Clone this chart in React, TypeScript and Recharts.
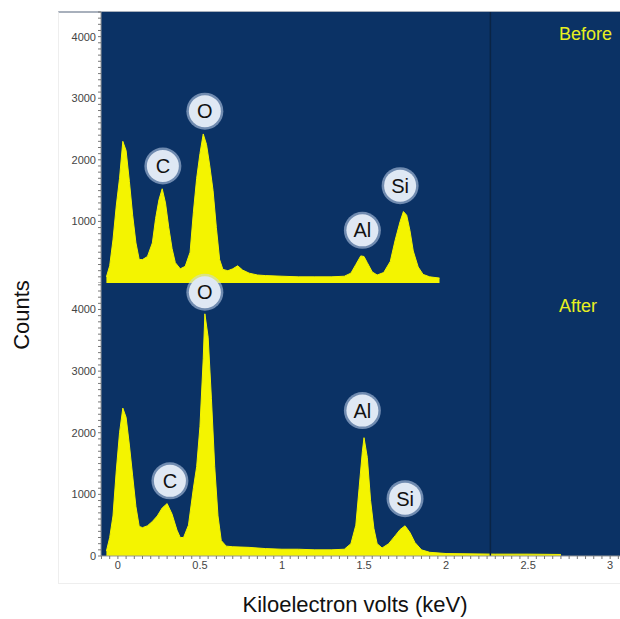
import React from 'react';
import { AreaChart, Area, XAxis, YAxis, CartesianGrid, ReferenceLine, ReferenceDot } from 'recharts';

// Spectrum before treatment (keV vs counts)
const beforeKev = [
  -0.07, -0.05, -0.03, -0.01, 0.01, 0.03, 0.05, 0.07, 0.09, 0.11, 0.13, 0.15, 0.18, 0.21, 0.23, 0.25,
  0.27, 0.29, 0.31, 0.33, 0.35, 0.38, 0.41, 0.44, 0.46, 0.48, 0.5, 0.52, 0.54, 0.56, 0.58, 0.6,
  0.62, 0.64, 0.67, 0.7, 0.73, 0.76, 0.8, 0.85, 0.9, 1.0, 1.1, 1.2, 1.3, 1.38, 1.42, 1.45,
  1.48, 1.5, 1.52, 1.55, 1.58, 1.62, 1.66, 1.69, 1.72, 1.74, 1.76, 1.78, 1.8, 1.83, 1.86, 1.9, 1.96,
];
const beforeCounts = [
  100, 280, 700, 1250, 1700, 2300, 2150, 1650, 1100, 650, 380, 380, 430, 650, 1050, 1350,
  1530, 1300, 900, 560, 330, 230, 270, 500, 1150, 1700, 2100, 2420, 2250, 1900, 1500, 900,
  380, 220, 200, 230, 280, 210, 160, 130, 120, 110, 100, 100, 100, 110, 160, 300,
  440, 430, 330, 180, 130, 170, 350, 700, 1000, 1160, 1100, 850, 520, 260, 140, 100, 80,
];

// Spectrum after treatment
const afterKev = [
  -0.07, -0.05, -0.03, -0.01, 0.01, 0.03, 0.05, 0.07, 0.09, 0.11, 0.13, 0.15, 0.18, 0.21, 0.24, 0.27,
  0.3, 0.33, 0.36, 0.38, 0.4, 0.43, 0.46, 0.48, 0.5, 0.52, 0.53, 0.55, 0.57, 0.59, 0.61, 0.63,
  0.66, 0.7, 0.8, 0.9, 1.0, 1.1, 1.2, 1.3, 1.38, 1.42, 1.45, 1.47, 1.49, 1.5, 1.52, 1.54,
  1.56, 1.58, 1.61, 1.65, 1.69, 1.72, 1.75, 1.78, 1.81, 1.85, 1.9, 2.0, 2.3, 2.5, 2.7,
];
const afterCounts = [
  80, 300, 650, 1380, 2000, 2400, 2250, 1800, 1300, 800, 480, 460, 490, 560, 650, 780,
  850, 680, 420, 300, 300, 500, 1100, 1450, 2100, 3200, 3930, 3550, 2550, 1450, 650, 250,
  160, 150, 140, 120, 110, 110, 100, 100, 110, 200, 500, 1100, 1700, 1920, 1600, 900,
  450, 200, 130, 200, 330, 430, 490, 380, 220, 100, 60, 40, 30, 30, 25,
];

// Element labels: [element, keV, counts] for the circle centres
const beforeLabels: [string, number, number][] = [
  ['C', 0.274, 1900],
  ['O', 0.53, 2790],
  ['Al', 1.49, 855],
  ['Si', 1.72, 1580],
];
const afterLabels: [string, number, number][] = [
  ['O', 0.53, 4280],
  ['C', 0.317, 1220],
  ['Al', 1.49, 2360],
  ['Si', 1.75, 930],
];

const xMajorTicks = [0, 0.5, 1, 1.5, 2, 2.5, 3];
const xTickLabels = ['0', '0.5', '1', '1.5', '2', '2.5', '3'];
const yMajorTicks = [0, 1000, 2000, 3000, 4000];
const yTickLabels = ['0', '1000', '2000', '3000', '4000'];
const markerLineKev = 2.27;

const X_DOMAIN: [number, number] = [-0.103, 3.06];
const BG = '#0b3265';
const YELLOW = '#f4f400';
const FONT = 'Arial, "Liberation Sans", sans-serif';

const beforeData = beforeKev.map((k, i) => ({ kev: k, counts: beforeCounts[i] }));
const afterData = afterKev.map((k, i) => ({ kev: k, counts: afterCounts[i] }));

// minor ticks between the labelled ones
const xTicks: number[] = [];
for (let i = -2; i <= 61; i++) xTicks.push(Math.round(i * 5) / 100);
const yTicksAll: number[] = [];
for (let i = 0; i <= 44; i++) yTicksAll.push(i * 100);

const xFmt = (v: number) => {
  const idx = xMajorTicks.findIndex((t) => Math.abs(t - v) < 1e-6);
  return idx >= 0 ? xTickLabels[idx] : '';
};
const yFmt = (hideZero: boolean) => (v: number) => {
  const idx = yMajorTicks.indexOf(v);
  if (idx < 0 || (hideZero && v === 0)) return '';
  return yTickLabels[idx];
};

const bubble = (name: string) => (props: any) => {
  const { cx, cy } = props;
  return (
    <g>
      <circle cx={cx} cy={cy} r={18.5} fill="#c4d6ee" opacity={0.55} />
      <circle cx={cx} cy={cy} r={16} fill="#dfe8f4" />
      <text
        x={cx}
        y={cy}
        textAnchor="middle"
        dominantBaseline="central"
        fontSize={20}
        fontFamily={FONT}
        fill="#111"
      >
        {name}
      </text>
    </g>
  );
};

const tickStyle = { fontSize: 11, fill: '#444', fontFamily: FONT };

const App: React.FC = () => {
  return (
    <div style={{ position: 'absolute', left: 0, top: 0, width: 620, height: 619, background: '#fff' }}>
      {/* thin frame round the axes region */}
      <div
        style={{
          position: 'absolute',
          left: 58,
          top: 11,
          width: 562,
          height: 570,
          borderTop: '2px solid #a8b0bc',
          borderLeft: '1px solid #eee',
          borderBottom: '1px solid #eee',
        }}
      />
      <div style={{ position: 'absolute', left: 0, top: 0 }}>
        <AreaChart width={620} height={283} data={beforeData} margin={{ top: 12, right: 0, left: 0, bottom: 0 }}>
          <CartesianGrid fill={BG} horizontal={false} vertical={false} />
          <XAxis type="number" dataKey="kev" domain={X_DOMAIN} allowDataOverflow hide />
          <YAxis
            type="number"
            width={101}
            domain={[0, 4400]}
            allowDataOverflow
            ticks={yTicksAll}
            interval={0}
            tickFormatter={yFmt(true)}
            tick={tickStyle}
            tickSize={3}
            tickLine={{ stroke: '#777' }}
            axisLine={{ stroke: '#999' }}
          />
          <ReferenceLine x={markerLineKev} stroke="#0a2445" strokeWidth={1.5} />
          <Area
            type="linear"
            dataKey="counts"
            stroke={YELLOW}
            strokeWidth={1}
            fill={YELLOW}
            fillOpacity={1}
            isAnimationActive={false}
          />
          {beforeLabels.map(([name, k, c]) => (
            <ReferenceDot key={'b' + name} x={k} y={c} r={16} shape={bubble(name)} />
          ))}
        </AreaChart>
      </div>
      <div style={{ position: 'absolute', left: 0, top: 263 }}>
        <AreaChart width={620} height={320} data={afterData} margin={{ top: 20, right: 0, left: 0, bottom: 0 }}>
          <CartesianGrid fill={BG} horizontal={false} vertical={false} />
          <XAxis
            type="number"
            dataKey="kev"
            domain={X_DOMAIN}
            allowDataOverflow
            ticks={xTicks}
            interval={0}
            tickFormatter={xFmt}
            tick={tickStyle}
            tickSize={3}
            height={27}
            tickLine={{ stroke: '#777' }}
            axisLine={{ stroke: '#999' }}
          />
          <YAxis
            type="number"
            width={101}
            domain={[0, 4430]}
            allowDataOverflow
            ticks={yTicksAll}
            interval={0}
            tickFormatter={yFmt(false)}
            tick={tickStyle}
            tickSize={3}
            tickLine={{ stroke: '#777' }}
            axisLine={{ stroke: '#999' }}
          />
          <ReferenceLine x={markerLineKev} stroke="#0a2445" strokeWidth={1.5} />
          <Area
            type="linear"
            dataKey="counts"
            stroke={YELLOW}
            strokeWidth={1}
            fill={YELLOW}
            fillOpacity={1}
            isAnimationActive={false}
          />
          {afterLabels.map(([name, k, c]) => (
            <ReferenceDot key={'a' + name} x={k} y={c} r={16} shape={bubble(name)} />
          ))}
        </AreaChart>
      </div>
      <div
        style={{
          position: 'absolute',
          right: 8,
          top: 24,
          color: '#e8f020',
          fontFamily: FONT,
          fontSize: 18,
        }}
      >
        Before
      </div>
      <div
        style={{
          position: 'absolute',
          right: 23,
          top: 296,
          color: '#e8f020',
          fontFamily: FONT,
          fontSize: 18,
        }}
      >
        After
      </div>
      <div
        style={{
          position: 'absolute',
          left: 22,
          top: 315,
          transform: 'translate(-50%, -50%) rotate(-90deg)',
          fontFamily: FONT,
          fontSize: 22,
          color: '#111',
          whiteSpace: 'nowrap',
        }}
      >
        Counts
      </div>
      <div
        style={{
          position: 'absolute',
          left: 355,
          top: 605,
          transform: 'translate(-50%, -50%)',
          fontFamily: FONT,
          fontSize: 22,
          color: '#111',
          whiteSpace: 'nowrap',
        }}
      >
        Kiloelectron volts (keV)
      </div>
    </div>
  );
};

export default App;
